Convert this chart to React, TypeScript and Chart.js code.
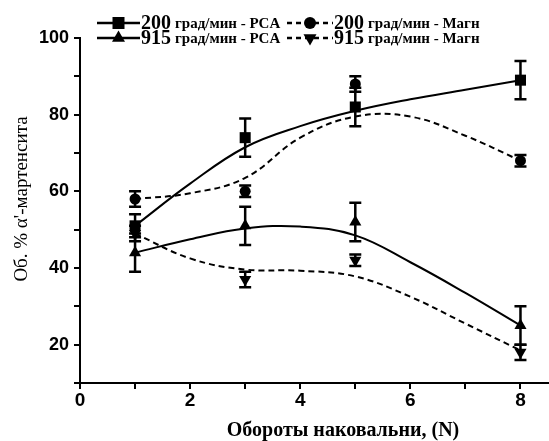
import React, { useEffect, useRef } from "react";
import { Chart, registerables } from "chart.js";

Chart.register(...registerables);

const xPoints = [1, 3, 5, 8];
const pcaSquare = [51, 74, 82, 89];
const pcaSquareErr = [3, 5, 5, 5];
const magnCircle = [58, 60, 88, 68];
const magnCircleErr = [2, 1.5, 2, 1.5];
const pcaTri = [44, 51, 52, 25];
const pcaTriErr = [5, 5, 5, 5];
const magnTriDown = [49, 37, 42, 18];
const magnTriDownErr = [2, 2, 1.5, 2];

const curveX = [1, 2, 3, 4, 5, 6, 7, 8];
const curvePcaSquare = [51, 62, 71.5, 77, 81, 84, 86.5, 89];
const curveMagnCircle = [58, 59.5, 63.5, 74, 79.5, 79.5, 74.5, 68];
const curvePcaTri = [44, 47.5, 50.3, 50.8, 48.5, 41.5, 33.5, 25];
const curveMagnTriDown = [49, 42.5, 39.6, 39.3, 37.8, 32.5, 25.5, 18.5];

const xTitle = "Обороты наковальни, (N)";
const yTitle = "Об. % α'-мартенсита";

const toXY = (xs: number[], ys: number[]) => xs.map((x, i) => ({ x, y: ys[i] }));

const errorBarPlugin = {
  id: "errorBars",
  afterDatasetsDraw(chart: any) {
    const ctx = chart.ctx;
    const yScale = chart.scales.y;
    chart.data.datasets.forEach((ds: any, i: number) => {
      if (!ds.errors) return;
      const meta = chart.getDatasetMeta(i);
      ctx.save();
      ctx.strokeStyle = "#000";
      ctx.lineWidth = 2.5;
      meta.data.forEach((el: any, j: number) => {
        const v = ds.data[j].y;
        const e = ds.errors[j];
        const yt = yScale.getPixelForValue(v + e);
        const yb = yScale.getPixelForValue(v - e);
        const x = el.x;
        ctx.beginPath();
        ctx.moveTo(x, yt);
        ctx.lineTo(x, yb);
        ctx.moveTo(x - 6, yt);
        ctx.lineTo(x + 6, yt);
        ctx.moveTo(x - 6, yb);
        ctx.lineTo(x + 6, yb);
        ctx.stroke();
      });
      ctx.restore();
    });
  },
};

function drawMarker(ctx: CanvasRenderingContext2D, kind: string, x: number, y: number) {
  ctx.beginPath();
  if (kind === "square") {
    ctx.rect(x - 6, y - 6, 12, 12);
  } else if (kind === "circle") {
    ctx.arc(x, y, 6, 0, Math.PI * 2);
  } else if (kind === "tri") {
    const r = 7.5;
    ctx.moveTo(x, y - r);
    ctx.lineTo(x + r * 0.866, y + r * 0.5);
    ctx.lineTo(x - r * 0.866, y + r * 0.5);
    ctx.closePath();
  } else {
    const r = 7.5;
    ctx.moveTo(x, y + r);
    ctx.lineTo(x + r * 0.866, y - r * 0.5);
    ctx.lineTo(x - r * 0.866, y - r * 0.5);
    ctx.closePath();
  }
  ctx.fill();
}

const legendItems = [
  { x0: 97, x1: 140, y: 23, kind: "square", dash: false, num: "200", text: "град/мин - PCA" },
  { x0: 97, x1: 140, y: 38, kind: "tri", dash: false, num: "915", text: "град/мин - PCA" },
  { x0: 287, x1: 333, y: 23, kind: "circle", dash: true, num: "200", text: "град/мин - Магн" },
  { x0: 287, x1: 333, y: 38, kind: "tridown", dash: true, num: "915", text: "град/мин - Магн" },
];

const annotPlugin = {
  id: "annot",
  afterDraw(chart: any) {
    const ctx: CanvasRenderingContext2D = chart.ctx;
    ctx.save();
    ctx.fillStyle = "#000";
    ctx.strokeStyle = "#000";
    legendItems.forEach((it) => {
      ctx.lineWidth = 2.5;
      ctx.setLineDash(it.dash ? [5, 4] : []);
      ctx.beginPath();
      ctx.moveTo(it.x0, it.y);
      ctx.lineTo(it.x1, it.y);
      ctx.stroke();
      ctx.setLineDash([]);
      drawMarker(ctx, it.kind, (it.x0 + it.x1) / 2, it.y);
      ctx.textBaseline = "middle";
      ctx.textAlign = "left";
      ctx.font = "bold 20px 'Liberation Serif'";
      ctx.fillText(it.num, it.x1 + 1, it.y + 1);
      const w = ctx.measureText(it.num).width;
      ctx.font = "bold 15px 'Liberation Serif'";
      ctx.fillText(it.text, it.x1 + 1 + w + 4, it.y + 1);
    });
    ctx.font = "bold 20px 'Liberation Serif'";
    ctx.textAlign = "center";
    ctx.textBaseline = "middle";
    ctx.fillText(xTitle, 343, 431);
    ctx.save();
    ctx.translate(22, 199);
    ctx.rotate(-Math.PI / 2);
    ctx.font = "19px 'Liberation Serif'";
    ctx.fillText(yTitle, 0, 0);
    ctx.restore();
    ctx.restore();
  },
};

export default function App() {
  const ref = useRef<HTMLCanvasElement>(null);
  useEffect(() => {
    document.body.style.margin = "0";
    const pointDs = (label: string, ys: number[], errs: number[], style: string, rot = 0, r = 6) => ({
      type: "scatter" as const,
      label,
      data: toXY(xPoints, ys),
      errors: errs,
      showLine: false,
      pointStyle: style,
      rotation: rot,
      pointRadius: r,
      pointBackgroundColor: "#000",
      pointBorderColor: "#000",
      pointBorderWidth: 0,
      order: 0,
    });
    const curveDs = (ys: number[], dashed: boolean) => ({
      type: "line" as const,
      data: toXY(curveX, ys),
      borderColor: "#000",
      borderWidth: 2,
      borderDash: dashed ? [6, 4] : [],
      pointRadius: 0,
      tension: 0.4,
      fill: false,
      order: 1,
    });
    const chart = new Chart(ref.current!, {
      type: "scatter",
      data: {
        datasets: [
          curveDs(curvePcaSquare, false),
          curveDs(curveMagnCircle, true),
          curveDs(curvePcaTri, false),
          curveDs(curveMagnTriDown, true),
          pointDs("200 PCA", pcaSquare, pcaSquareErr, "rect", 0, 7.8),
          pointDs("200 Magn", magnCircle, magnCircleErr, "circle", 0, 5.5),
          pointDs("915 PCA", pcaTri, pcaTriErr, "triangle", 0, 7),
          pointDs("915 Magn", magnTriDown, magnTriDownErr, "triangle", 180, 7),
        ] as any,
      },
      options: {
        animation: false,
        responsive: false,
        layout: { autoPadding: false, padding: { top: 38, right: 1, left: 0, bottom: 0 } },
        plugins: { legend: { display: false }, tooltip: { enabled: false } },
        scales: {
          x: {
            type: "linear",
            min: 0,
            max: 8.5,
            afterFit: (s: any) => {
              s.height = 58;
              s.paddingLeft = 0;
              s.paddingRight = 0;
            },
            ticks: {
              stepSize: 1,
              includeBounds: false,
              autoSkip: false,
              maxRotation: 0,
              padding: 0,
              color: "#000",
              font: { family: "'Liberation Sans'", size: 19, weight: "bold" },
              callback: (v: any) => (Number(v) % 2 === 0 ? String(v) : ""),
            },
            grid: { drawOnChartArea: false, drawTicks: true, tickLength: 6, color: "#000", lineWidth: 2 },
            border: { display: true, color: "#000", width: 2 },
          },
          y: {
            type: "linear",
            min: 10,
            max: 100,
            afterFit: (s: any) => {
              s.width = 80;
              s.paddingTop = 0;
              s.paddingBottom = 0;
            },
            ticks: {
              stepSize: 10,
              autoSkip: false,
              padding: 5,
              color: "#000",
              font: { family: "'Liberation Sans'", size: 18, weight: "bold" },
              callback: (v: any) => (Number(v) % 20 === 0 ? String(v) : ""),
            },
            grid: { drawOnChartArea: false, drawTicks: true, tickLength: 6, color: "#000", lineWidth: 2 },
            border: { display: true, color: "#000", width: 2 },
          },
        },
      },
      plugins: [errorBarPlugin, annotPlugin],
    } as any);
    return () => chart.destroy();
  }, []);
  return (
    <div style={{ width: 549, height: 441, background: "#fff" }}>
      <canvas ref={ref} width={549} height={441} style={{ display: "block" }} />
    </div>
  );
}
